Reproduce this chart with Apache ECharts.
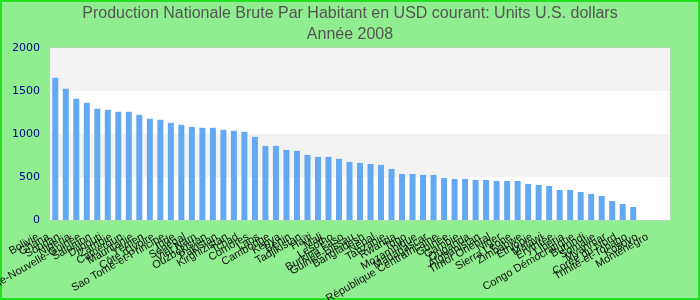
<!DOCTYPE html>
<html><head><meta charset="utf-8">
<script src="https://cdn.jsdelivr.net/npm/echarts@6/dist/echarts.min.js"></script>
<style>html,body{margin:0;padding:0;background:#90ee90}#c{width:700px;height:300px}</style>
</head><body><div id="c"></div>
<script>
const categories = ["Bolivie","Ghana","Soudan","Nigeria","Papouasie-Nouvelle-Guinée","Salomon","Djibouti","Zambie","Cameroun","Mauritanie","Yémen","Côte d'Ivoire","Sao Tomé-et-Principe","Inde","Sénégal","Viêt Nam","Ouzbékistan","Pakistan","Kirghizistan","Tchad","Comores","Laos","Cambodge","Kenya","Bénin","Tadjikistan","Haïti","Mali","Lesotho","Burkina Faso","Guinée-Bissau","Bangladesh","Népal","Tanzanie","Rwanda","Togo","Mozambique","Madagascar","République Centrafricaine","Guinée","Gambie","Ouganda","Afghanistan","Timor Oriental","Niger","Sierra Leone","Zimbabwe","Éthiopie","Malawi","Érythrée","Libéria","Congo Démocratique","Burundi","Somalie","Myanmar","Corée du Nord","Trinité-et-Tobago","Kosovo","Monténégro"];
const values = [1654,1526,1410,1363,1293,1281,1258,1258,1223,1177,1165,1130,1107,1083,1072,1072,1048,1037,1025,967,862,862,815,804,757,734,734,711,676,664,652,641,594,536,536,524,524,489,478,478,466,466,454,454,454,419,408,396,349,349,326,303,280,221,186,151,null,null,null];
const yTicks = [0,500,1000,1500,2000];
const titleText = "Production Nationale Brute Par Habitant en USD courant: Units U.S. dollars\nAnnée 2008";

const chart = echarts.init(document.getElementById('c'));
chart.setOption({
  backgroundColor: '#90ee90',
  animation: false,
  title: {text: titleText, left: 'center', top: -2,
    textStyle: {fontFamily: 'Liberation Sans', fontWeight: 'normal', fontSize: 16, color: '#555', lineHeight: 21}},
  graphic: [{type: 'rect', shape: {x: 1, y: 1, width: 698, height: 298}, style: {fill: 'none', stroke: '#22e022', lineWidth: 2}, silent: true}],
  grid: {left: 50, right: 30, top: 48, bottom: 80, show: true, borderColor: '#cccccc', borderWidth: 1, backgroundColor: 'transparent', containLabel: false, outerBoundsMode: 'none'},
  xAxis: {type: 'category', data: categories,
    axisLine: {show: false}, axisTick: {show: false},
    axisLabel: {interval: 0, rotate: 30, fontSize: 11, color: '#111', fontFamily: 'Liberation Sans', margin: 6, padding: [0, 20, 0, 0]}},
  yAxis: {type: 'value', min: yTicks[0], max: yTicks[yTicks.length-1], interval: 500,
    axisLine: {show: false}, axisTick: {show: false}, splitLine: {show: false},
    splitArea: {show: true, areaStyle: {color: ['#ffffff', '#f3f3f3']}},
    axisLabel: {fontSize: 11, color: '#00008b', fontFamily: 'DejaVu Sans', margin: 10, formatter: v => String(v)}},
  series: [{type: 'bar', data: values, barWidth: 6, itemStyle: {color: '#62a8f2'}}]
});
</script></body></html>
